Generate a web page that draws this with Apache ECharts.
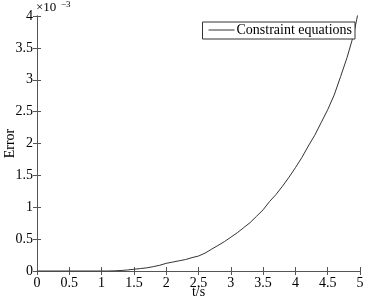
<!DOCTYPE html>
<html><head><meta charset="utf-8">
<script src="https://cdn.jsdelivr.net/npm/echarts@6/dist/echarts.min.js"></script>
<style>html,body{margin:0;padding:0;background:#fff}#c{width:365px;height:300px}</style>
</head><body><div id="c"></div>
<script>
const seriesName = 'Constraint equations';
const tValues = [0,0.5,1.0,1.1,1.2,1.3,1.4,1.5,1.6,1.7,1.8,1.9,2.0,2.1,2.2,2.3,2.4,2.5,2.6,2.7,2.8,2.9,3.0,3.1,3.2,3.3,3.4,3.5,3.6,3.7,3.8,3.9,4.0,4.1,4.2,4.3,4.4,4.5,4.6,4.7,4.8,4.9,4.95,5.0];
const errValues = [0,0,0,0,0.003,0.008,0.016,0.027,0.038,0.05,0.068,0.09,0.12,0.14,0.16,0.18,0.21,0.235,0.28,0.34,0.40,0.46,0.53,0.60,0.68,0.76,0.86,0.96,1.09,1.2,1.33,1.47,1.62,1.78,1.96,2.13,2.33,2.53,2.76,3.05,3.35,3.7,3.95,4.2];
const xTicks = [0,0.5,1,1.5,2,2.5,3,3.5,4,4.5,5];
const yTicks = [0,0.5,1,1.5,2,2.5,3,3.5,4];

const font = 'Liberation Serif';
const axisColor = '#555';
const chart = echarts.init(document.getElementById('c'), null, {renderer:'canvas'});
const tickStyle = {show:true, inside:true, length:4, lineStyle:{color:axisColor}};
chart.setOption({
  animation:false,
  graphic:[
    {type:'text', left:36, top:1, style:{text:'×10', fontFamily:font, fontSize:13, fill:'#000'}},
    {type:'text', left:61, top:0, style:{text:'−3', fontFamily:font, fontSize:9, fill:'#000'}}
  ],
  legend:{
    data:[seriesName], right:10, top:22, orient:'vertical',
    backgroundColor:'#fff', borderColor:'#333', borderWidth:1, borderRadius:0,
    padding:[1,3,2,6], itemWidth:26, itemHeight:14, itemGap:0,
    icon:'path://M0,7 L26,7 L26,8 L0,8 Z',
    textStyle:{fontFamily:font,fontSize:14,lineHeight:14,color:'#000',padding:[0,0,0,-3]}
  },
  grid:{left:37,right:5,top:16,bottom:29,containLabel:false,outerBoundsMode:'none'},
  xAxis:[{
    type:'value', min:0, max:5, interval:0.5,
    name:'t/s', nameLocation:'middle', nameGap:14, nameMoveOverlap:false,
    nameTextStyle:{fontFamily:font,fontSize:14,color:'#000'},
    axisLine:{show:true,onZero:false,lineStyle:{color:axisColor,width:1}},
    axisTick:tickStyle,
    axisLabel:{fontFamily:font,fontSize:14,color:'#000',margin:5,hideOverlap:false,
      formatter:v=>xTicks.includes(v)?String(v):''},
    splitLine:{show:false}
  },{
    type:'value', min:0, max:5, interval:0.5, position:'top',
    axisLine:{show:true,lineStyle:{color:axisColor,width:1}},
    axisTick:tickStyle, axisLabel:{show:false}, splitLine:{show:false}
  }],
  yAxis:[{
    type:'value', min:0, max:4, interval:0.5,
    name:'Error', nameLocation:'middle', nameGap:20, nameRotate:90, nameMoveOverlap:false,
    nameTextStyle:{fontFamily:font,fontSize:14,color:'#000'},
    axisLine:{show:true,onZero:false,lineStyle:{color:axisColor,width:1}},
    axisTick:tickStyle,
    axisLabel:{fontFamily:font,fontSize:14,color:'#000',margin:4,hideOverlap:false,
      formatter:v=>yTicks.includes(v)?String(v):''},
    splitLine:{show:false}
  },{
    type:'value', min:0, max:4, interval:0.5, position:'right',
    axisLine:{show:true,lineStyle:{color:axisColor,width:1}},
    axisTick:tickStyle, axisLabel:{show:false}, splitLine:{show:false}
  }],
  series:[{
    name:seriesName, type:'line', showSymbol:false, symbol:'none',
    data:tValues.map((t,i)=>[t,errValues[i]]),
    lineStyle:{color:'#333',width:1}, itemStyle:{color:'#333'},
    clip:true, z:1
  }]
});
</script></body></html>
